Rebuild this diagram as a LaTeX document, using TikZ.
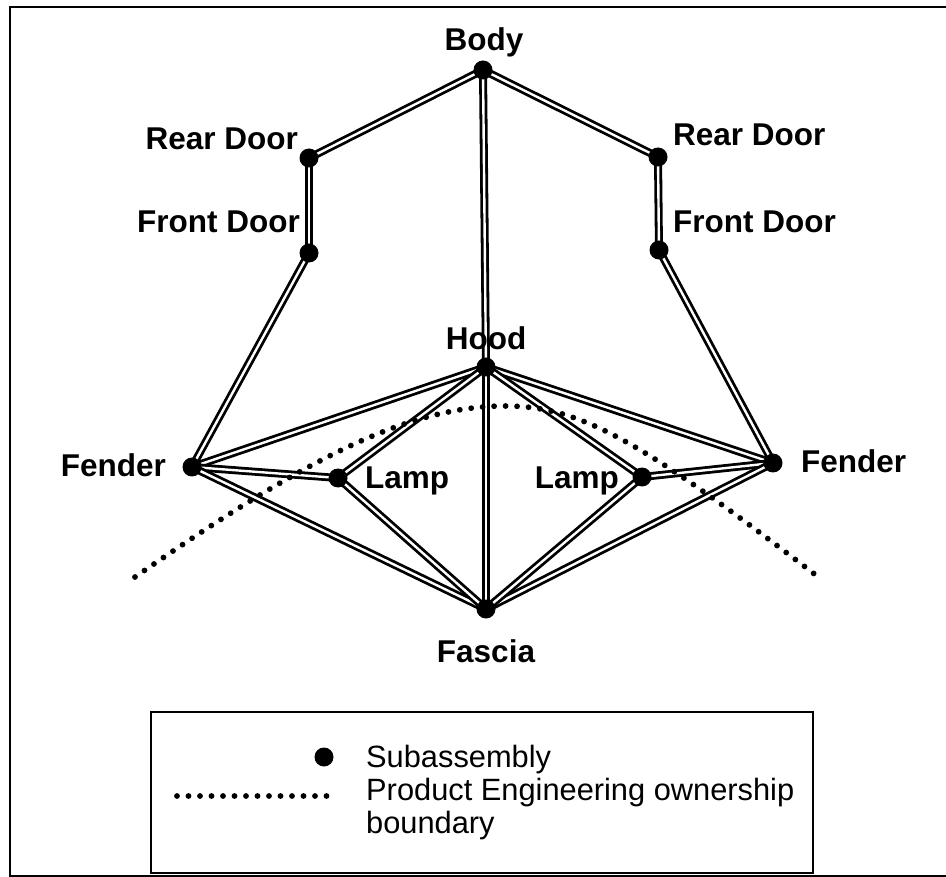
\documentclass[tikz,border=0pt]{standalone}
\usepackage{fontspec}
\setmainfont{Liberation Sans}
\pgfdeclarelayer{background}
\pgfsetlayers{background,main}
\begin{document}
\begin{tikzpicture}[x=1pt,y=-1pt,
  part/.style={circle,fill=black,inner sep=0pt,minimum size=19pt},
  link/.style={draw=black,line width=2.8pt,double=white,double distance=2.4pt},
  lbl/.style={font=\fontsize{31.5}{37}\selectfont\bfseries,inner sep=0pt},
  legtext/.style={font=\fontsize{30.8}{36}\selectfont,inner sep=0pt},
  boundary/.style={line width=5.8pt,line cap=round,dash pattern=on 0pt off 11.5pt},
  frame/.style={line width=2.8pt}]
\useasboundingbox (0,0) rectangle (946,877);

% outer frame (open on the right)
\coordinate (f1) at (946,7);
\coordinate (f2) at (10,7);
\coordinate (f3) at (10,876);
\coordinate (f4) at (946,876);
\draw[frame] (f1) -- (f2) -- (f3) -- (f4);

% subassemblies
\node[part] (body)   at (483,70)  {};
\node[part] (rdl)    at (309,158) {};
\node[part] (fdl)    at (309,253) {};
\node[part] (rdr)    at (658,157) {};
\node[part] (fdr)    at (659,250) {};
\node[part] (hood)   at (486,367) {};
\node[part] (fenl)   at (192,467) {};
\node[part] (lampl)  at (338,478) {};
\node[part] (lampr)  at (642,477) {};
\node[part] (fenr)   at (773,463) {};
\node[part] (fascia) at (486,609) {};

% boundary end points
\coordinate (bl) at (135,577);
\coordinate (bt) at (505,406);
\coordinate (br) at (817,576);

\begin{pgfonlayer}{background}
  % body and doors
  \draw[link] (body.center) -- (rdl.center);
  \draw[link] (rdl.center) -- (fdl.center);
  \draw[link] (fdl.center) -- (fenl.center);
  \draw[link] (body.center) -- (rdr.center);
  \draw[link] (rdr.center) -- (fdr.center);
  \draw[link] (fdr.center) -- (fenr.center);
  \draw[link] (body.center) -- (hood.center);
  \draw[link] (hood.center) -- (fascia.center);
  % hood
  \draw[link] (hood.center) -- (fenl.center);
  \draw[link] (hood.center) -- (lampl.center);
  \draw[link] (hood.center) -- (fenr.center);
  \draw[link] (hood.center) -- (lampr.center);
  % fenders, lamps, fascia
  \draw[link] (fenl.center) -- (lampl.center);
  \draw[link] (fenl.center) -- (fascia.center);
  \draw[link] (lampl.center) -- (fascia.center);
  \draw[link] (fenr.center) -- (lampr.center);
  \draw[link] (fenr.center) -- (fascia.center);
  \draw[link] (lampr.center) -- (fascia.center);
  % ownership boundary
  \draw[boundary] (bl) .. controls (290,470) and (400,406) .. (bt)
                       .. controls (580,406) and (640,440) .. (br);
\end{pgfonlayer}

% labels
\node[lbl, anchor=base]      (tbody)   at (484,51)  {Body};
\node[lbl, anchor=base east] (trdl)    at (298,150) {Rear Door};
\node[lbl, anchor=base east] (tfdl)    at (300,233) {Front Door};
\node[lbl, anchor=base west] (trdr)    at (673,146) {Rear Door};
\node[lbl, anchor=base west] (tfdr)    at (673,233) {Front Door};
\node[lbl, anchor=base]      (thood)   at (486,350) {Hood};
\node[lbl, anchor=base east] (tfenl)   at (166,476) {Fender};
\node[lbl, anchor=base west] (tlampl)  at (365,489) {Lamp};
\node[lbl, anchor=base east] (tlampr)  at (619,489) {Lamp};
\node[lbl, anchor=base west] (tfenr)   at (801,472) {Fender};
\node[lbl, anchor=base]      (tfascia) at (486,662) {Fascia};

% legend
\node[draw, line width=2pt, minimum width=662pt, minimum height=161pt, inner sep=0pt]
  (legend) at (482,792.5) {};
\node[part] (legdot) at (324,757) {};
\coordinate (ld1) at (177,796);
\coordinate (ld2) at (330,796);
\draw[boundary] (ld1) -- (ld2);
\node[legtext, anchor=base west] (legsub)   at (366,767) {Subassembly};
\node[legtext, anchor=base west] (legprod)  at (366,800) {Product Engineering ownership};
\node[legtext, anchor=base west] (legbound) at (366,833) {boundary};
\end{tikzpicture}
\end{document}
